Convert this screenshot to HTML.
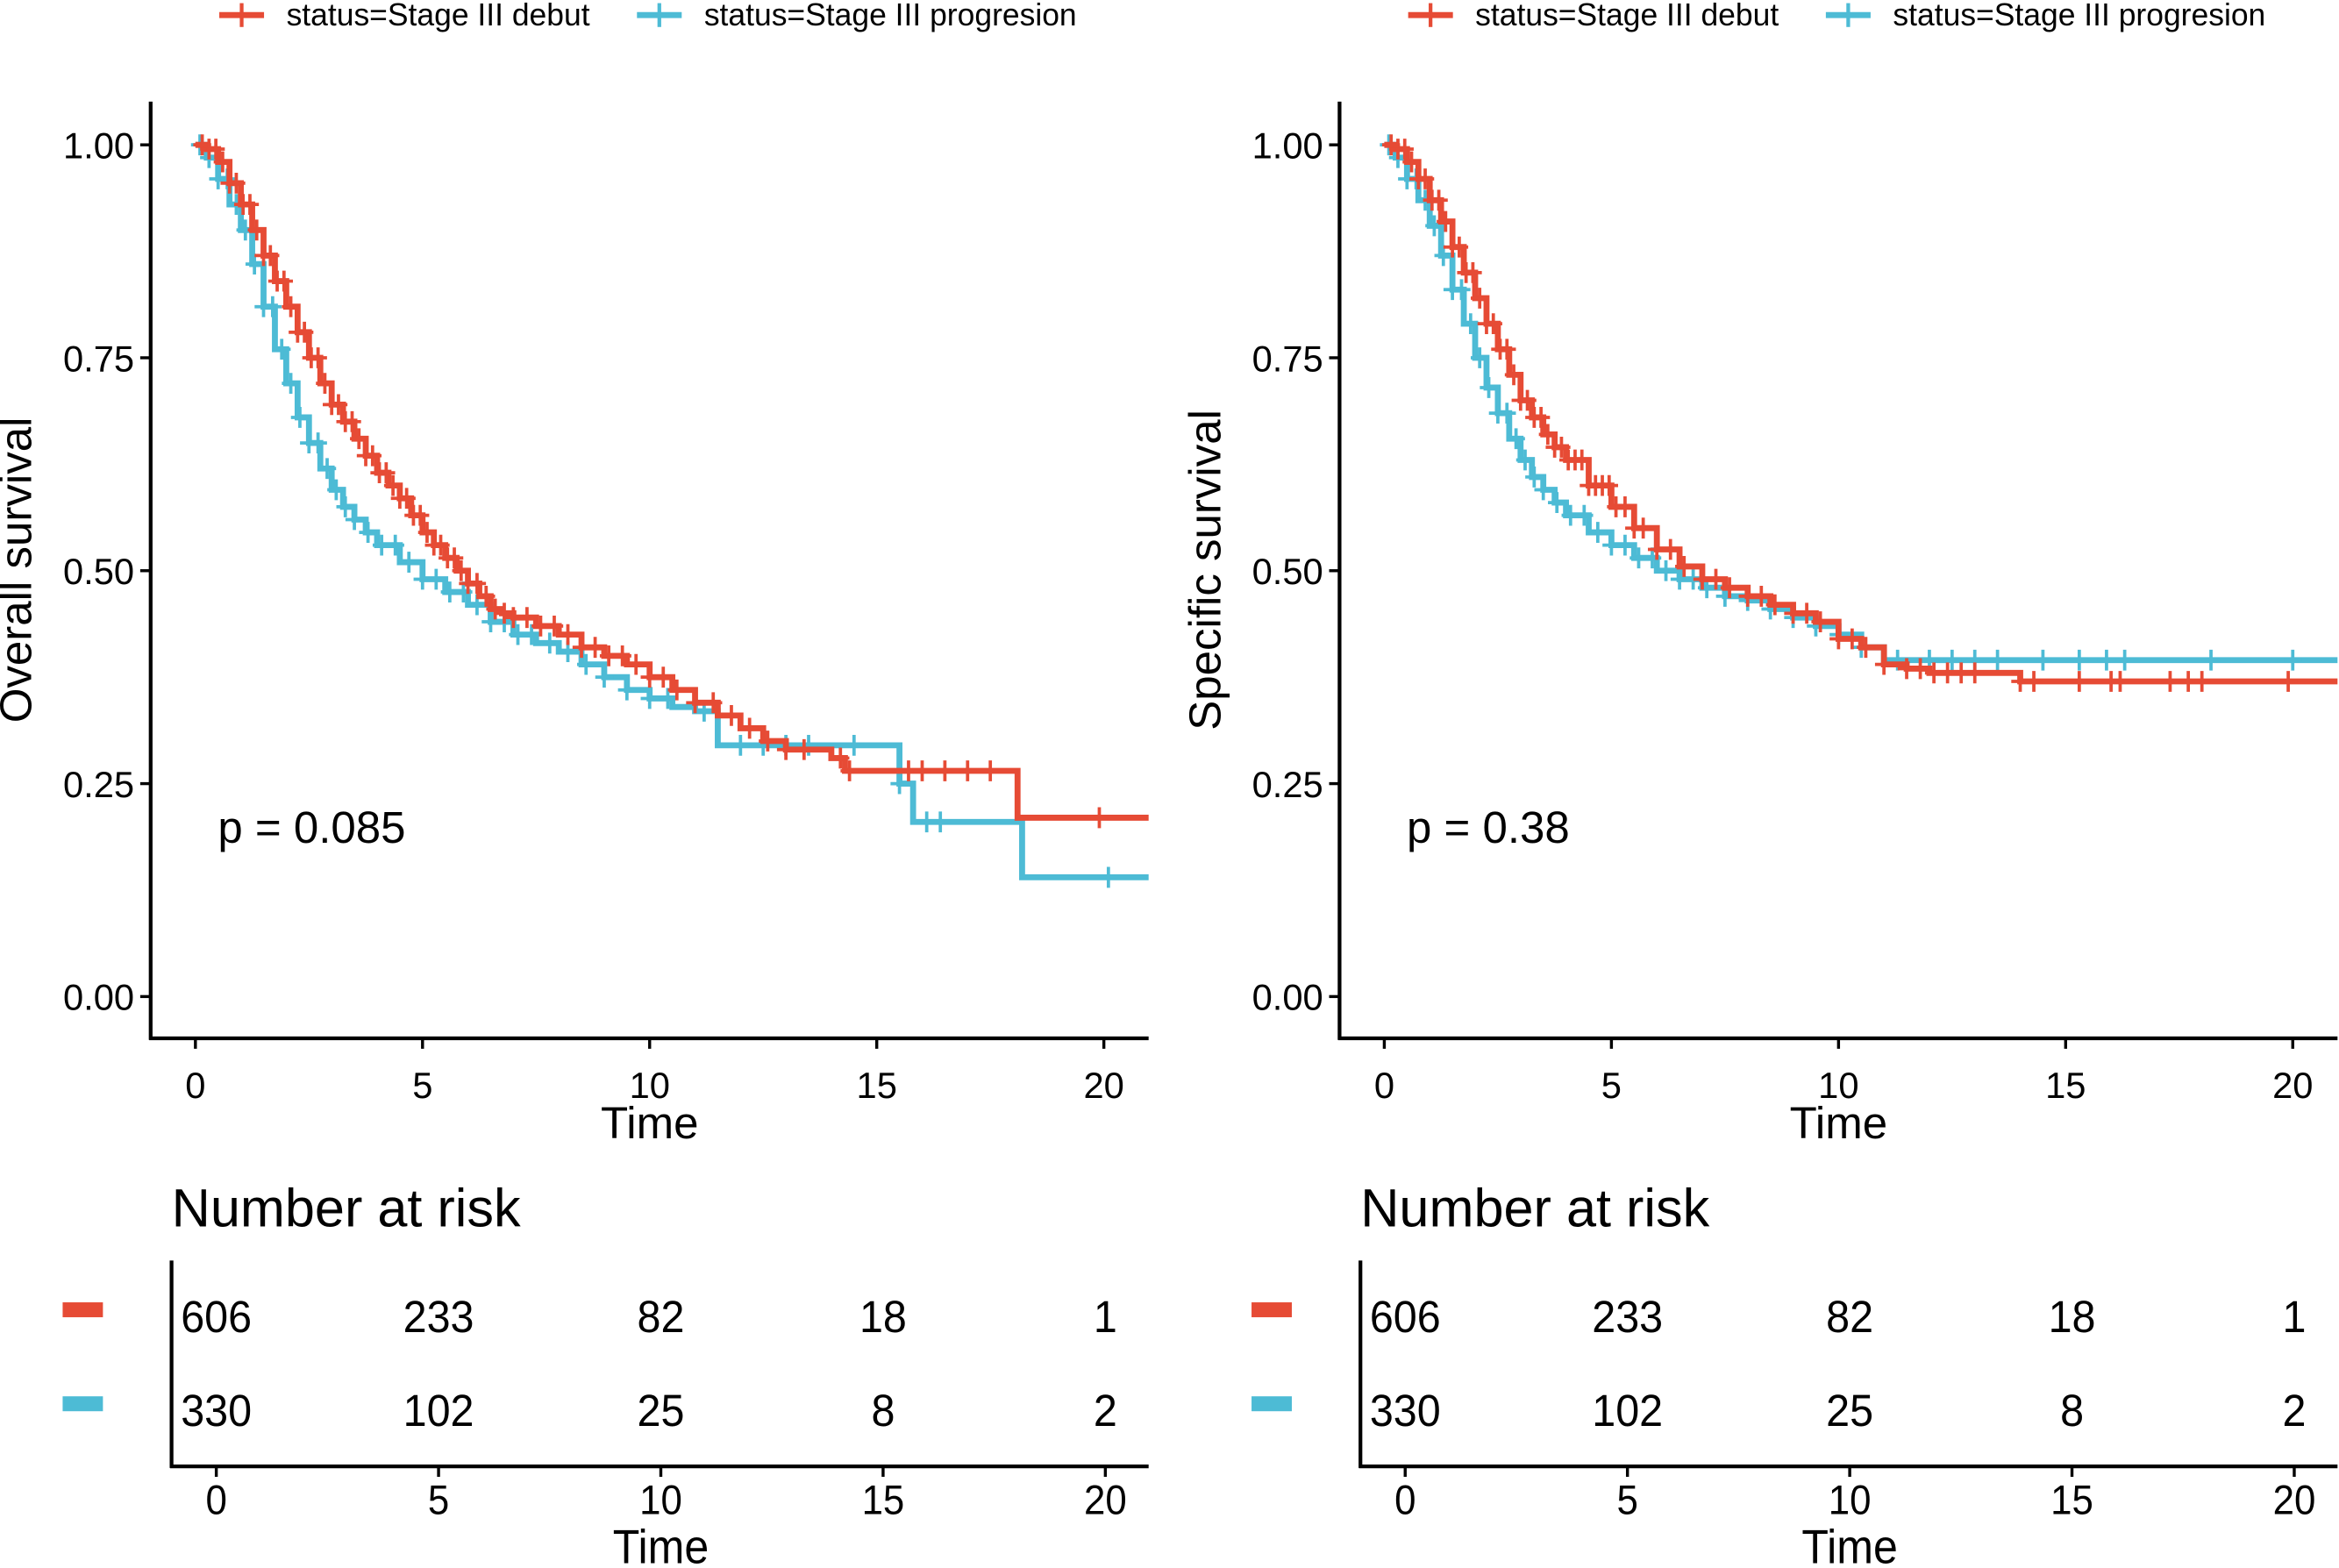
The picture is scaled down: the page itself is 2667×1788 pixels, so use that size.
<!DOCTYPE html>
<html><head><meta charset="utf-8"><style>html,body{margin:0;padding:0;background:#fff}svg{display:block}text{font-family:"Liberation Sans",Arial,sans-serif;fill:#000}</style></head>
<body>
<svg id="chart" width="2667" height="1788" viewBox="0 0 1568 1051" xmlns="http://www.w3.org/2000/svg"></svg>
<script>
// ---------- DATA ----------
const xTicks = [0,5,10,15,20];
const yTicks = [0,0.25,0.5,0.75,1];
const yTickLabels = ["0.00","0.25","0.50","0.75","1.00"];
const groupNames = ["status=Stage III debut","status=Stage III progresion"];
// Overall survival (left)
const osDebutT = [0,0.25,0.5,0.75,1,1.25,1.5,1.75,2,2.25,2.5,2.75,3,3.25,3.5,3.75,4,4.25,4.5,4.75,5,5.25,5.5,5.75,6,6.25,6.5,6.75,7,7.5,8,8.5,9,9.5,10,10.5,11,11.5,12,12.5,13,14,14.3,18.1];
const osDebutS = [1,0.995,0.98,0.955,0.93,0.9,0.87,0.84,0.81,0.78,0.75,0.72,0.695,0.675,0.655,0.635,0.615,0.6,0.585,0.565,0.545,0.53,0.515,0.5,0.485,0.47,0.455,0.45,0.445,0.435,0.425,0.41,0.4,0.39,0.375,0.36,0.345,0.33,0.315,0.3,0.29,0.28,0.265,0.21];
const osProgT = [0,0.25,0.5,0.75,1,1.25,1.5,1.75,2,2.25,2.5,2.75,3,3.25,3.5,3.75,4,4.5,5,5.5,6,6.5,7,7.5,8,8.5,9,9.5,10,10.5,11,11.5,15.5,15.8,18.2];
const osProgS = [1,0.985,0.96,0.93,0.9,0.86,0.81,0.76,0.72,0.68,0.65,0.62,0.595,0.575,0.56,0.545,0.53,0.51,0.49,0.475,0.46,0.44,0.425,0.415,0.405,0.39,0.375,0.36,0.35,0.34,0.335,0.295,0.25,0.205,0.14];
const osDebutCens = [0.15,0.3,0.45,0.6,0.75,0.9,1.05,1.2,1.35,1.5,1.65,1.8,1.95,2.1,2.25,2.4,2.55,2.7,2.85,3,3.15,3.3,3.45,3.6,3.75,3.9,4.05,4.2,4.35,4.5,4.65,4.8,4.95,5.1,5.25,5.4,5.55,5.7,5.85,6,6.2,6.4,6.6,6.8,7,7.3,7.6,7.9,8.2,8.5,8.8,9.1,9.4,9.7,10,10.3,10.6,11,11.4,11.8,12.2,12.6,13,13.4,14.2,14.4,15.7,16,16.5,17,17.5,19.9];
const osProgCens = [0.1,0.3,0.5,0.7,0.9,1.1,1.3,1.5,1.7,1.9,2.1,2.3,2.5,2.7,2.9,3.1,3.3,3.5,3.8,4.1,4.4,4.7,5,5.3,5.6,5.9,6.2,6.5,6.8,7.1,7.4,7.8,8.2,8.6,9,9.5,10,10.4,11.2,12,12.5,13,13.5,14.5,15.5,16.1,16.4,20.1];
// Specific survival (right)
const ssDebutT = [0,0.25,0.5,0.75,1,1.25,1.5,1.75,2,2.25,2.5,2.75,3,3.25,3.5,3.75,4,4.5,5,5.5,6,6.5,7,7.5,8,8.5,9,9.5,10,10.5,11,11.5,12,14];
const ssDebutS = [1,0.995,0.98,0.96,0.935,0.91,0.88,0.85,0.82,0.79,0.76,0.73,0.7,0.68,0.66,0.645,0.63,0.6,0.575,0.55,0.525,0.505,0.49,0.48,0.47,0.46,0.45,0.44,0.42,0.41,0.39,0.385,0.38,0.37];
const ssProgT = [0,0.25,0.5,0.75,1,1.25,1.5,1.75,2,2.25,2.5,2.75,3,3.25,3.5,3.75,4,4.5,5,5.5,6,6.5,7,7.5,8,8.5,9,9.5,10,10.5,11];
const ssProgS = [1,0.985,0.96,0.935,0.905,0.87,0.83,0.79,0.75,0.715,0.685,0.655,0.63,0.61,0.595,0.58,0.565,0.545,0.53,0.515,0.5,0.49,0.48,0.47,0.465,0.455,0.445,0.435,0.425,0.41,0.395];
const ssDebutCens = [0.15,0.3,0.45,0.6,0.75,0.9,1.05,1.2,1.35,1.5,1.65,1.8,1.95,2.1,2.25,2.4,2.55,2.7,2.85,3,3.15,3.3,3.45,3.6,3.75,3.9,4.05,4.2,4.35,4.5,4.65,4.8,4.95,5.1,5.3,5.5,5.7,6,6.3,6.6,7,7.3,7.6,8,8.3,8.6,9,9.3,9.6,10,10.3,10.6,11,11.5,11.8,12.1,12.4,12.7,13,14,14.3,15.3,16,16.2,17.3,17.7,18,19.9];
const ssProgCens = [0.1,0.3,0.5,0.7,0.9,1.1,1.3,1.5,1.7,1.9,2.1,2.3,2.5,2.7,2.9,3.1,3.3,3.5,3.8,4.1,4.4,4.7,5,5.3,5.6,5.9,6.2,6.5,6.8,7.1,7.5,8,8.5,9,9.5,10,10.5,11.3,12,12.5,13,13.5,14.5,15.3,15.9,16.3,18.2,20];
const riskDebut = [606,233,82,18,1];
const riskProg = [330,102,25,8,2];

const RED="#E64B35", CYAN="#4DBBD5";
const svg=document.getElementById('chart');
const NS="http://www.w3.org/2000/svg";
function mk(tag,attrs,parent){const e=document.createElementNS(NS,tag);for(const k in attrs)e.setAttribute(k,attrs[k]);(parent||svg).appendChild(e);return e;}
function txt(s,x,y,size,anchor,parent,sx){const t=mk('text',{x:0,y:0,'font-size':size,'text-anchor':anchor||'start',transform:`translate(${x},${y}) scale(${sx||1},1)`},parent);t.textContent=s;return t;}
function stepAt(T,S,t){let v=S[0];for(let i=0;i<T.length;i++){if(T[i]<=t)v=S[i];}return v;}

function panel(ox, yTitle, pText, dT,dS,pT,pS,dC,pC, name){
  const g=mk('g',{});
  
  
  const X=t=>ox+30+30.45*t, Y=v=>668-571*v;
  const right=ox+669;
  const lg=mk('g',{},g);
  
  
  [[RED,groupNames[0],ox+46],[CYAN,groupNames[1],ox+326]].forEach(([c,n,lx])=>{
    mk('line',{x1:lx,y1:10,x2:lx+30,y2:10,stroke:c,'stroke-width':4},lg);
    mk('line',{x1:lx+15,y1:2,x2:lx+15,y2:18,stroke:c,'stroke-width':2.5},lg);
    const t=txt(n,lx+45,17,21.5,'start',lg,0.97);
    
    
  });
  mk('line',{x1:ox,y1:68,x2:ox,y2:697,stroke:'#000','stroke-width':2.5},g);
  mk('line',{x1:ox-1,y1:696,x2:right,y2:696,stroke:'#000','stroke-width':2.5},g);
  yTicks.forEach((v,i)=>{mk('line',{x1:ox-7,y1:Y(v),x2:ox,y2:Y(v),stroke:'#000','stroke-width':2},g);txt(yTickLabels[i],ox-11,Y(v)+9,24.5,'end',g);});
  xTicks.forEach(v=>{mk('line',{x1:X(v),y1:696,x2:X(v),y2:703,stroke:'#000','stroke-width':2},g);txt(String(v),X(v),736,24.5,'middle',g);});
  const xt=txt('Time',X(10),763,30,'middle',g);
  
  
  const yt=mk('text',{x:0,y:0,'font-size':30,'text-anchor':'middle',transform:`translate(${ox-80},382) rotate(-90)`},g);
  yt.textContent=yTitle;
  
  
  const pv=txt(pText,ox+45,565,30,'start',g);
  
  
  [[pT,pS,pC,CYAN,'curve-progression'],[dT,dS,dC,RED,'curve-debut']].forEach(([T,S,C,c,nm])=>{
    let d=`M${X(T[0])},${Y(S[0])}`;
    for(let i=1;i<T.length;i++){d+=`H${X(T[i])}V${Y(S[i])}`;}
    d+=`H${right}`;
    const p=mk('path',{d:d,fill:'none',stroke:c,'stroke-width':4},g);
    
    
    C.forEach(t=>{const cx=X(t),cy=Y(stepAt(T,S,t));
      const m=mk('path',{d:`M${cx},${cy-7}V${cy+7}M${cx-6},${cy}H${cx+6}`,stroke:c,'stroke-width':2.2},g);
      
      
    });
  });
  const tg=mk('g',{},g);
  
  
  const tx0=ox+14, RX=t=>tx0+30+29.8*t;
  txt('Number at risk',tx0,822,36,'start',tg,1.0);
  mk('line',{x1:tx0,y1:845,x2:tx0,y2:984,stroke:'#000','stroke-width':2.5},tg);
  mk('line',{x1:tx0-1,y1:983,x2:right,y2:983,stroke:'#000','stroke-width':2.5},tg);
  mk('rect',{x:ox-59,y:873,width:27,height:10,fill:RED},tg);
  mk('rect',{x:ox-59,y:936,width:27,height:10,fill:CYAN},tg);
  xTicks.forEach((v,i)=>{
    mk('line',{x1:RX(v),y1:983,x2:RX(v),y2:990,stroke:'#000','stroke-width':2},tg);
    txt(String(v),RX(v),1015,28,'middle',tg,0.92);
    txt(String(riskDebut[i]),RX(v),893,30,'middle',tg,0.95);
    txt(String(riskProg[i]),RX(v),956,30,'middle',tg,0.95);
  });
  txt('Time',RX(10),1048,32,'middle',tg,0.92);
}
panel(101,'Overall survival','p = 0.085',osDebutT,osDebutS,osProgT,osProgS,osDebutCens,osProgCens,'overall-survival-panel');
panel(898,'Specific survival','p = 0.38',ssDebutT,ssDebutS,ssProgT,ssProgS,ssDebutCens,ssProgCens,'specific-survival-panel');
</script>
</body></html>
